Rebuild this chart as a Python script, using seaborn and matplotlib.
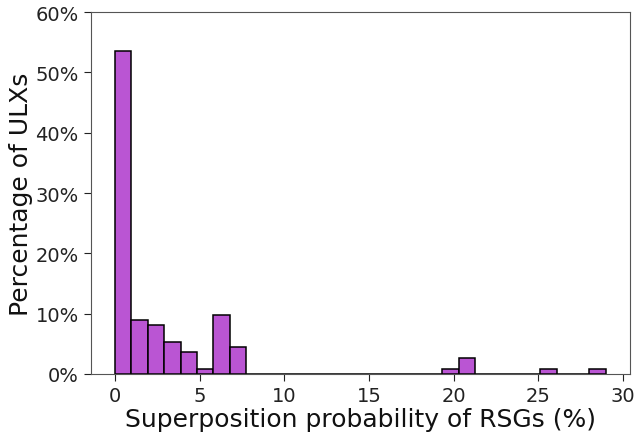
import numpy as np
import pandas as pd
import seaborn as sns
import matplotlib.pyplot as plt
from matplotlib.ticker import PercentFormatter

# Number of ULXs in each of the 30 equal-width probability bins (0 .. 28.98 %)
max_prob = 28.98
n_bins = 30
counts = [60, 10, 9, 6, 4, 1, 11, 5, 0, 0,
          0, 0, 0, 0, 0, 0, 0, 0, 0, 0,
          1, 3, 0, 0, 0, 0, 1, 0, 0, 1]
x_ticks = [0, 5, 10, 15, 20, 25, 30]
y_ticks = [0, 10, 20, 30, 40, 50, 60]

edges = np.linspace(0, max_prob, n_bins + 1)
centers = (edges[:-1] + edges[1:]) / 2
df = pd.DataFrame({"prob": centers, "n": counts})

sns.set_style("ticks")
plt.rcParams["font.family"] = ["DejaVu Sans"]

fig, ax = plt.subplots(figsize=(6.38, 4.39), dpi=100)
sns.histplot(data=df, x="prob", weights="n", bins=n_bins, binrange=(0, max_prob),
             stat="percent", color="#BA55D3", alpha=1.0, edgecolor="black",
             linewidth=1.1, ax=ax)

ax.set_ylim(0, 60)
ax.set_xticks(x_ticks)
ax.set_yticks(y_ticks)
ax.yaxis.set_major_formatter(PercentFormatter(decimals=0))
ax.tick_params(labelsize=14, colors="#222222", length=5)
ax.set_xlabel("Superposition probability of RSGs (%)", fontsize=18, color="#111111",
              labelpad=2)
ax.set_ylabel("Percentage of ULXs", fontsize=18, color="#111111", labelpad=2)
for s in ax.spines.values():
    s.set_visible(True)
    s.set_color("#555555")

fig.subplots_adjust(left=0.142, right=0.988, top=0.97, bottom=0.146)
fig.savefig("out.png", dpi=100)
